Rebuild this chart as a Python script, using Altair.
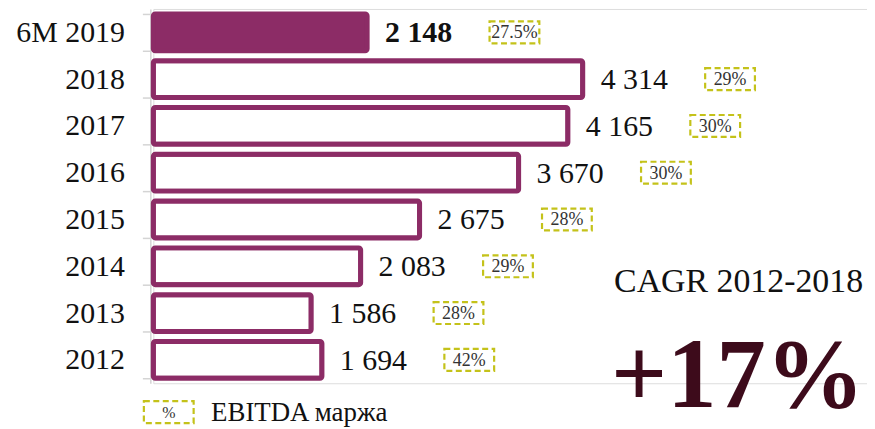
import altair as alt
import pandas as pd

categories = ["6M 2019", "2018", "2017", "2016", "2015", "2014", "2013", "2012"]
values = [2148, 4314, 4165, 3670, 2675, 2083, 1586, 1694]
margins = ["27.5%", "29%", "30%", "30%", "28%", "29%", "28%", "42%"]

df = pd.DataFrame({
    "cat": categories,
    "val": values,
    "label": [f"{v:,}".replace(",", " ") for v in values],
    "margin": margins,
})

PURPLE = "#8c2c66"
DASH = "#c4c21a"
MAROON = "#3d0b1b"
FONT = "Liberation Serif"

x = alt.X("val:Q", scale=alt.Scale(domain=[0, 7170], nice=False, zero=True), axis=None)
y = alt.Y(
    "cat:N",
    sort=categories,
    title=None,
    scale=alt.Scale(paddingInner=0.213, paddingOuter=0.1065),
    axis=alt.Axis(
        labelFont=FONT, labelFontSize=30, labelColor="#111111", labelPadding=18,
        tickBand="extent", tickSize=8, tickColor="#d4d4d4", tickWidth=1.5,
        domainColor="#d4d4d4", domainWidth=1.5, offset=3, grid=False,
        labelLimit=300,
    ),
)

base = alt.Chart(df)

bars = base.mark_bar(stroke=PURPLE, strokeWidth=5, cornerRadius=2).encode(
    x=x, y=y,
    fill=alt.condition(alt.datum.cat == "6M 2019", alt.value(PURPLE), alt.value("white")),
)

lbl_bold = base.transform_filter(alt.datum.cat == "6M 2019").mark_text(
    align="left", baseline="middle", dx=18, dy=1, font=FONT, fontSize=30,
    fontWeight="bold", color="#111111",
).encode(x=x, y=y, text="label:N")

lbl = base.transform_filter(alt.datum.cat != "6M 2019").mark_text(
    align="left", baseline="middle", dx=18, dy=1, font=FONT, fontSize=30,
    color="#111111",
).encode(x=x, y=y, text="label:N")

BOX = "M-1,-0.44H1V0.44H-1Z"
boxes = base.mark_point(
    shape=BOX, size=2500, filled=False, stroke=DASH, strokeWidth=2.2,
    strokeDash=[6, 3.5], opacity=1, xOffset=148,
).encode(x=x, y=y)

pct = base.mark_text(
    align="center", baseline="middle", dx=148, dy=1, font=FONT, fontSize=18,
    color="#333333",
).encode(x=x, y=y, text="margin:N")

ann = pd.DataFrame({"t": ["CAGR 2012-2018"]})
cagr = alt.Chart(ann).mark_text(
    align="center", baseline="alphabetic", font=FONT, fontSize=34, color="#111111",
).encode(x=alt.value(588), y=alt.value(284), text="t:N")

big = alt.Chart(pd.DataFrame({"t": ["+17%"]})).mark_text(
    align="center", baseline="alphabetic", font=FONT, fontSize=99,
    fontWeight="bold", color=MAROON,
).encode(x=alt.value(587), y=alt.value(400), text="t:N")

leg_df = pd.DataFrame({"sym": ["%"], "name": ["EBITDA маржа"]})
leg_box = alt.Chart(leg_df).mark_point(
    shape=BOX, size=2500, filled=False, stroke=DASH, strokeWidth=2.2,
    strokeDash=[6, 3.5], opacity=1,
).encode(x=alt.value(15.5), y=alt.value(405))
leg_sym = alt.Chart(leg_df).mark_text(
    align="center", baseline="middle", font=FONT, fontSize=16, color="#333333",
).encode(x=alt.value(15.5), y=alt.value(406), text="sym:N")
leg_txt = alt.Chart(leg_df).mark_text(
    align="left", baseline="alphabetic", font=FONT, fontSize=27, color="#111111",
).encode(x=alt.value(58), y=alt.value(414), text="name:N")

chart = alt.layer(
    bars, lbl_bold, lbl, boxes, pct, cagr, big, leg_box, leg_sym, leg_txt
).properties(
    width=717, height=376,
    autosize=alt.AutoSizeParams(type="none"),
    padding={"left": 146, "top": 0, "right": 0, "bottom": 44},
).configure_view(stroke=None).configure(background="white")

chart.save("out.html", embed_options={"renderer": "svg", "actions": False})
